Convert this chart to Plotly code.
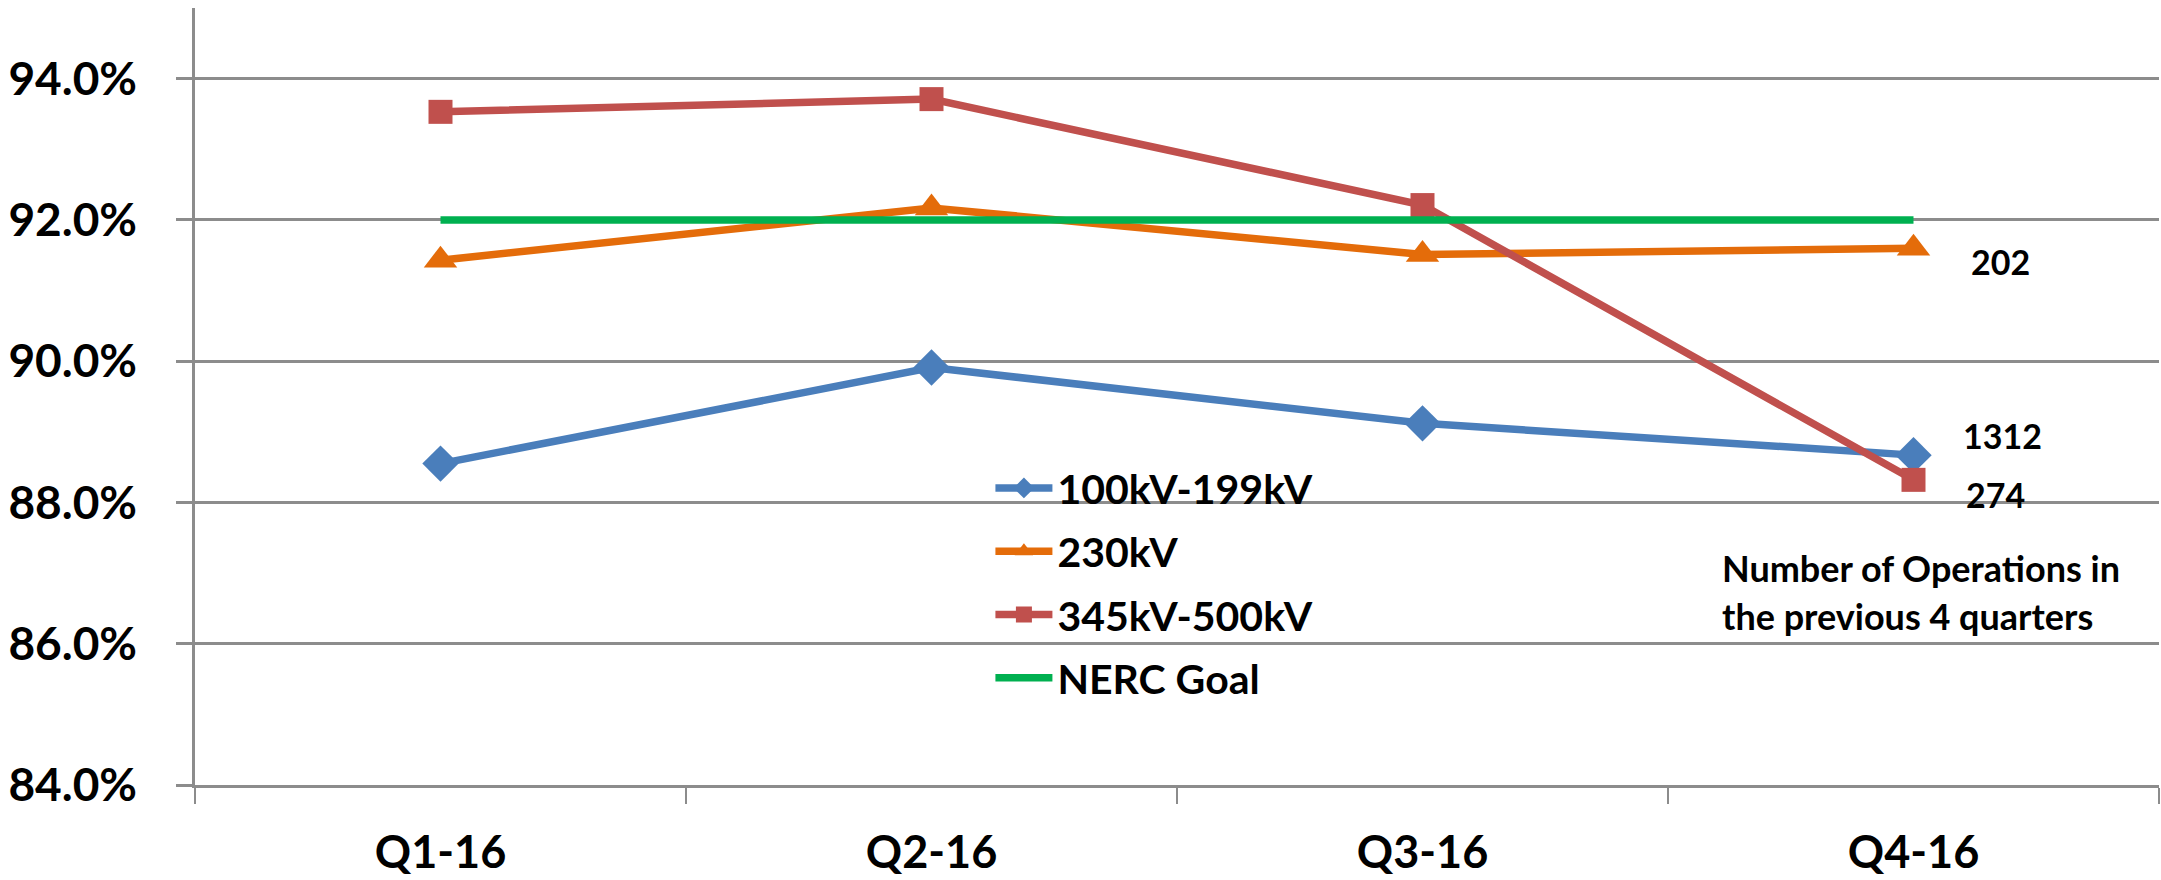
import plotly.graph_objects as go

# Quarterly categories and series values (percent)
quarters = ["Q1-16", "Q2-16", "Q3-16", "Q4-16"]
kv_100_199 = [88.55, 89.91, 89.12, 88.67]
kv_230 = [91.43, 92.17, 91.51, 91.60]
kv_345_500 = [93.53, 93.71, 92.21, 88.32]
nerc_goal = [92.0, 92.0, 92.0, 92.0]

# Operation counts shown beside the last quarter
ops_100_199 = "1312"
ops_230 = "202"
ops_345_500 = "274"

y_tick_values = [84, 86, 88, 90, 92, 94]
y_tick_labels = [f"{v:.1f}%" for v in y_tick_values]

FONT = "Lato"
GRID = "#8c8c8c"

series = [
    ("100kV-199kV", kv_100_199, "#4a7ebb", "diamond", 28),
    ("230kV", kv_230, "#e46c0a", "triangle-up", 29),
    ("345kV-500kV", kv_345_500, "#c0504d", "square", 24),
    ("NERC Goal", nerc_goal, "#00b050", None, 0),
]

fig = go.Figure()
for name, vals, color, symbol, size in series:
    mode = "lines+markers" if symbol else "lines"
    fig.add_trace(go.Scatter(
        x=quarters, y=vals, name=name, mode=mode, legendgroup=name,
        line=dict(color=color, width=7.5),
        marker=dict(symbol=symbol, size=size, color=color) if symbol else None,
    ))

ann_font = dict(family=FONT, size=34, color="black", weight="bold")
# counts next to the Q4 points
for text, yv, dx, dy in [
    (ops_230, kv_230[3], 87, -13),
    (ops_100_199, kv_100_199[3], 89, 20),
    (ops_345_500, kv_345_500[3], 82, -15),
]:
    fig.add_annotation(x=3, y=yv, xref="x", yref="y", text=text, showarrow=False,
                       xshift=dx, yshift=dy, font=ann_font)

note_font = dict(family=FONT, size=36, color="black", weight="bold")
fig.add_annotation(x=0.7765, y=0.279, xref="paper", yref="paper", xanchor="left",
                   yanchor="middle", text="Number of Operations in",
                   showarrow=False, font=note_font)
fig.add_annotation(x=0.7765, y=0.217, xref="paper", yref="paper", xanchor="left",
                   yanchor="middle", text="the previous 4 quarters",
                   showarrow=False, font=note_font)

fig.update_layout(
    width=2161, height=880,
    margin=dict(l=195, r=2, t=8, b=93),
    paper_bgcolor="white", plot_bgcolor="white",
    showlegend=True,
    legend=dict(
        x=0.405, y=0.425, xanchor="left", yanchor="top",
        font=dict(family=FONT, size=41, color="black", weight="bold"),
        itemwidth=57, traceorder="grouped", tracegroupgap=7,
        bgcolor="rgba(0,0,0,0)", borderwidth=0,
    ),
    xaxis=dict(
        type="category", range=[-0.5, 3.5],
        showline=True, linecolor=GRID, linewidth=2.5,
        ticks="outside", tickson="boundaries", ticklen=16, tickwidth=2, tickcolor=GRID,
        showgrid=False, ticklabelstandoff=26,
        tickfont=dict(family=FONT, size=45, color="black", weight="bold"),
    ),
    yaxis=dict(
        range=[84, 95.0], tickvals=y_tick_values, ticktext=y_tick_labels,
        showline=True, linecolor=GRID, linewidth=2.5,
        ticks="outside", ticklen=16, tickwidth=2.5, tickcolor=GRID,
        showgrid=True, gridcolor=GRID, gridwidth=2.5, zeroline=False,
        ticklabelstandoff=30,
        tickfont=dict(family=FONT, size=46, color="black", weight="bold"),
    ),
)

fig.write_html("out.html")
